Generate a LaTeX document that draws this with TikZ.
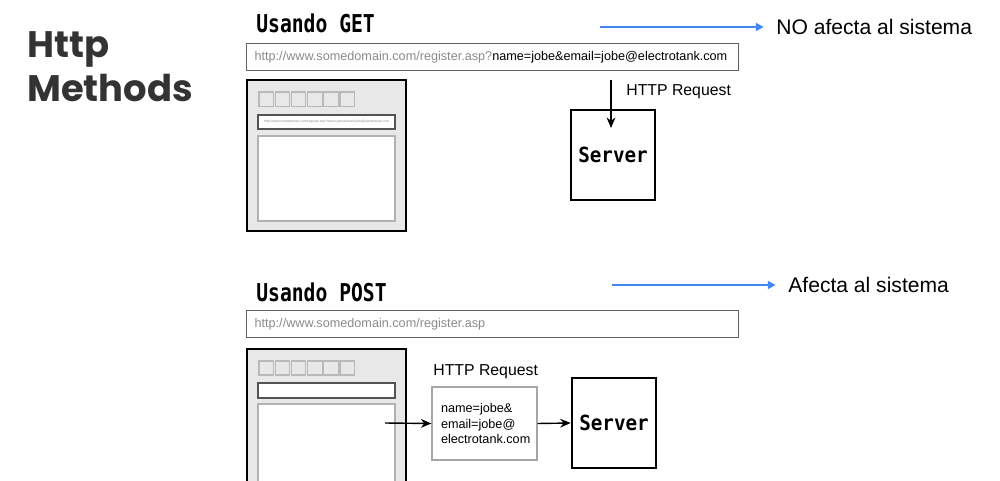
\documentclass[tikz,border=0pt]{standalone}
\usepackage{fontspec}
\setmainfont{Liberation Sans}
\newfontfamily\titlefont{Poppins}
\newfontfamily\pixfont{DejaVu Sans Mono}[FakeStretch=0.8]
\newfontfamily\srvfont{DejaVu Sans Mono}[FakeStretch=0.92]
\usetikzlibrary{positioning, arrows.meta}
\definecolor{gBlue}{HTML}{4285F4}
\definecolor{titleGray}{HTML}{333333}
\definecolor{urlGray}{HTML}{8A8A8A}
\definecolor{mockFill}{HTML}{E8E8E8}
\tikzset{
  blueArr/.style={-{Triangle[length=4.5pt,width=4.5pt]}, gBlue, line width=1.1pt},
  arr/.style={-{Stealth[length=6pt,width=5pt]}, line width=0.8pt},
  heading/.style={font=\pixfont\bfseries\fontsize{14}{16}\selectfont, anchor=base west, inner sep=0pt},
  note/.style={font=\fontsize{12}{14}\selectfont, anchor=west, inner sep=0pt},
  urlbox/.style={draw=gray!75!black, line width=0.7pt, minimum height=0.54cm, text width=9.52cm,
                 inner xsep=0.16cm, inner ysep=0pt, align=left, anchor=north west,
                 font=\fontsize{7.2}{8}\selectfont},
  server/.style={draw, line width=1.5pt, minimum width=1.68cm, minimum height=1.8cm, inner sep=0pt,
                 font=\srvfont\bfseries\fontsize{11.9}{13}\selectfont},
  reqbox/.style={draw=gray!70, line width=0.7pt, minimum width=2.1cm, minimum height=1.46cm,
                 text width=1.74cm, inner xsep=0.18cm, align=left, font=\fontsize{7.2}{8.6}\selectfont},
  reqlbl/.style={font=\fontsize{9}{10}\selectfont, anchor=west, inner sep=0pt},
  mock/.style={draw, line width=1.6pt, fill=mockFill},
  mockBtn/.style={draw=gray!55, line width=0.6pt},
  mockBar/.style={draw=gray!65!black, line width=0.8pt, fill=white},
}

\begin{document}
\begin{tikzpicture}[x=0.02cm, y=-0.02cm]
  \useasboundingbox (0,0) rectangle (1000,480);
  \clip (0,0) rectangle (1000,480);
  % --- title ---
  \node[font=\titlefont\bfseries\fontsize{21}{25}\selectfont, text=titleGray, align=left,
        anchor=base west, inner sep=0pt] (title) at (27,101) {Http\\Methods};

  % --- GET: query string in the url ---
  \node[heading] (getHead) at (256,32) {Usando GET};
  \coordinate (getArrStart) at (600,27);
  \node[note] (getNote) at (776,27) {NO afecta al sistema};
  \draw[blueArr, shorten >=7pt] (getArrStart) -- (getNote.west);
  \node[urlbox] (getUrl) at (246,43)
    {\textcolor{urlGray}{http://www.somedomain.com/register.asp?}name=jobe\&email=jobe@electrotank.com};
  % browser window
  \draw[mock] (247,80) rectangle (406,231);
  \foreach \i in {0,...,5}
    \draw[mockBtn] ({259+16.2*\i},92) rectangle ++(14.5,14.5);
  \draw[mockBar] (258,115) rectangle (395,129);
  \node[font=\fontsize{1.9}{2}\selectfont, text=urlGray, inner sep=0pt] (getMockUrl) at (326.5,122)
    {http://www.somedomain.com/register.asp?name=jobe\&email=jobe@electrotank.com};
  \draw[mockBar, draw=gray!60] (258,136) rectangle (395,221);
  % request straight down into the server
  \node[server] (getSrv) at (613,155) {Server};
  \coordinate (getReqTop) at (611,80);
  \coordinate (getReqTip) at (611,128);
  \draw[arr] (getReqTop) -- (getReqTip);
  \node[reqlbl] (getReqLbl) at (626,92) {HTTP Request};

  % --- POST: data in the request body ---
  \node[heading] (postHead) at (256,301) {Usando POST};
  \coordinate (postArrStart) at (612,285);
  \node[note] (postNote) at (788,285) {Afecta al sistema};
  \draw[blueArr, shorten >=7pt] (postArrStart) -- (postNote.west);
  \node[urlbox] (postUrl) at (246,310) {\textcolor{urlGray}{http://www.somedomain.com/register.asp}};
  % browser window (runs off the bottom)
  \draw[mock] (247,349) rectangle (406,500);
  \foreach \i in {0,...,5}
    \draw[mockBtn] ({259+16.2*\i},361) rectangle ++(14.5,14);
  \draw[mockBar] (258,383) rectangle (395,398);
  \draw[mockBar, draw=gray!60] (258,404) rectangle (395,495);
  % form -> request body -> server
  \node[reqbox] (postReq) at (484.5,423.5) {name=jobe\&\\email=jobe@\\electrotank.com};
  \node[reqlbl] (postReqLbl) at (433,372) {HTTP Request};
  \node[server] (postSrv) at (614,423) {Server};
  \coordinate (postForm) at (385,423);
  \draw[arr] (postForm) -- (postReq.west);
  \draw[arr] (postReq.east) -- (postSrv.west);
\end{tikzpicture}
\end{document}
